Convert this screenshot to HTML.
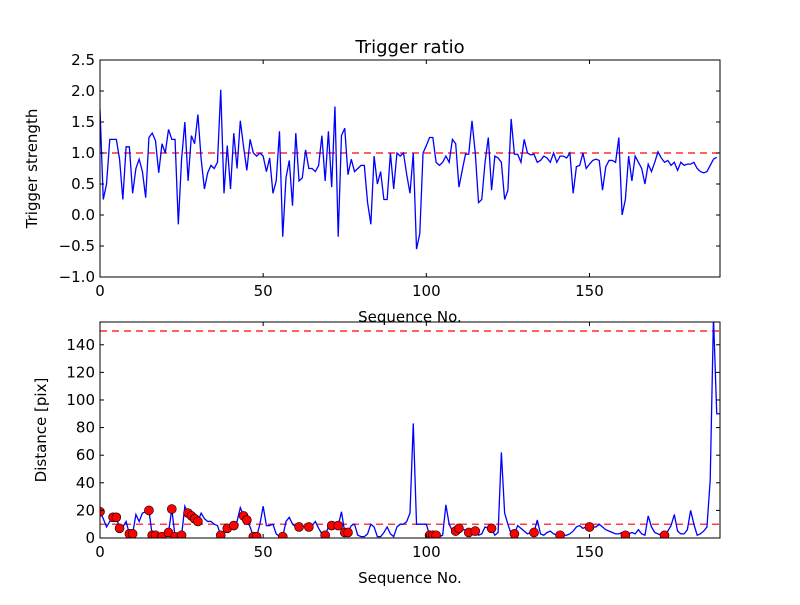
<!DOCTYPE html>
<html><head><meta charset="utf-8"><style>body{margin:0;background:#fff}svg{font-family:"DejaVu Sans","Liberation Sans",sans-serif}</style></head>
<body>
<svg id="c" width="800" height="600"></svg>
<script>
const topVals=[1.7,0.25,0.5,1.22,1.22,1.22,0.9,0.25,1.1,1.1,0.35,0.75,0.9,0.7,0.28,1.25,1.32,1.2,0.68,1.15,1.0,1.38,1.22,1.22,-0.15,0.9,1.5,0.55,1.28,1.15,1.62,0.9,0.42,0.68,0.8,0.75,0.85,2.02,0.35,1.12,0.42,1.32,0.75,1.52,1.1,0.72,1.22,1.0,0.95,1.0,0.95,0.7,0.92,0.35,0.55,1.35,-0.35,0.6,0.88,0.15,1.32,0.55,0.6,1.05,0.75,0.75,0.7,0.8,1.28,0.55,1.35,0.45,1.75,-0.35,1.28,1.4,0.65,0.9,0.7,0.75,0.8,0.8,0.2,-0.15,0.95,0.5,0.7,0.25,0.25,1.0,0.42,1.0,0.95,1.0,0.65,0.35,1.0,-0.55,-0.3,1.0,1.12,1.25,1.25,0.85,0.8,0.85,0.95,0.85,1.22,1.15,0.45,0.72,0.98,0.98,1.52,1.0,0.2,0.25,0.85,1.25,0.4,0.95,0.92,0.85,0.25,0.4,1.55,0.98,0.98,0.85,1.22,1.0,0.97,0.98,0.85,0.88,0.95,0.92,0.85,1.0,0.85,0.95,0.95,0.92,1.0,0.35,0.78,0.8,1.0,0.75,0.82,0.88,0.9,0.88,0.4,0.78,0.88,0.88,0.85,1.25,0.0,0.25,0.95,0.55,0.95,0.85,0.75,0.5,0.82,0.7,0.85,1.02,0.92,0.85,0.88,0.8,0.85,0.72,0.85,0.8,0.82,0.82,0.85,0.75,0.7,0.68,0.7,0.8,0.9,0.93];
const botVals=[19,14,8,12,15,15,7,8,12,3,3,17,12,18,19,20,2,2,1,1,4,4,21,1,1,2,23,18,16,14,12,18,14,12,12,10,9,2,5,7,8,9,12,22,16,13,8,1,1,10,23,9,9,10,3,1,1,12,15,10,8,8,9,8,8,9,12,7,3,2,8,9,11,9,19,4,4,9,10,2,1,1,3,10,8,1,1,4,8,3,1,8,10,10,12,18,83,10,10,10,10,2,2,2,1,2,24,10,5,5,7,6,6,4,5,5,2,3,8,7,7,2,4,62,18,10,3,3,9,7,5,3,4,4,13,3,2,4,5,3,2,2,2,2,3,5,8,9,7,8,8,8,8,10,8,6,5,4,3,3,4,2,3,4,3,6,3,2,16,8,4,3,2,2,5,9,17,5,3,3,6,20,10,2,3,5,8,42,160,90,90];
const dotIdx=[0,4,5,6,9,10,15,16,17,19,21,22,23,25,27,28,29,30,37,39,41,44,45,47,48,56,61,64,69,71,73,75,76,101,102,103,109,110,113,115,120,127,133,141,150,161,173];
const xTicks=[0,50,100,150];
const topTicks=[-1.0,-0.5,0.0,0.5,1.0,1.5,2.0,2.5];
const botTicks=[0,20,40,60,80,100,120,140];
const topThresh=[1.0];
const botThresh=[10,150];
const NS='http://www.w3.org/2000/svg';
const svg=document.getElementById('c');
const X0=100,X1=720,XMAX=190;
const xs=v=>X0+v/XMAX*(X1-X0);
const T={y0:60,y1:277,min:-1,max:2.5};
const B={y0:322,y1:538,min:0,max:156.5};
const ys=(p,v)=>p.y1-(v-p.min)/(p.max-p.min)*(p.y1-p.y0);
function mk(tag,attrs,parent){const e=document.createElementNS(NS,tag);for(const k in attrs)e.setAttribute(k,attrs[k]);(parent||svg).appendChild(e);return e;}
function panel(p,name,vals,ticks,fmt,thresh,ylabel){
  const g=mk('g',{'clip-path':'url(#cl'+name+')'});
  
  
  const cp=mk('clipPath',{id:'cl'+name});mk('rect',{x:X0,y:p.y0,width:X1-X0,height:p.y1-p.y0},cp);
  thresh.forEach(t=>{const l=mk('line',{x1:X0,x2:X1,y1:ys(p,t),y2:ys(p,t),stroke:'#f00','stroke-width':1.2,'stroke-dasharray':'7,5'},g);
    
    });
  const pl=mk('polyline',{points:vals.map((v,i)=>xs(i)+','+ys(p,v)).join(' '),fill:'none',stroke:'#00f','stroke-width':1.3},g);
  
  
  if(name==='distance'){dotIdx.forEach(i=>{const c=mk('circle',{cx:xs(i),cy:ys(p,vals[i]),r:4.5,fill:'#f00',stroke:'#000','stroke-width':0.6},g);
    
    });}
  const fr=mk('rect',{x:X0,y:p.y0,width:X1-X0,height:p.y1-p.y0,fill:'none',stroke:'#000','stroke-width':1});
  
  
  xTicks.forEach(t=>{const x=xs(t);mk('line',{x1:x,x2:x,y1:p.y1,y2:p.y1-4,stroke:'#000'});mk('line',{x1:x,x2:x,y1:p.y0,y2:p.y0+4,stroke:'#000'});
    const tx=mk('text',{x:x,y:p.y1+19,'text-anchor':'middle','font-size':15});tx.textContent=t;
    
    });
  ticks.forEach(t=>{const y=ys(p,t);mk('line',{x1:X0,x2:X0+4,y1:y,y2:y,stroke:'#000'});mk('line',{x1:X1,x2:X1-4,y1:y,y2:y,stroke:'#000'});
    const tx=mk('text',{x:X0-5,y:y+5,'text-anchor':'end','font-size':15});tx.textContent=fmt(t).replace('-','\u2212');
    
    });
  const xl=mk('text',{x:410,y:p.y1+45,'text-anchor':'middle','font-size':15});xl.textContent='Sequence No.';
  
  
  const cy=(p.y0+p.y1)/2;
  const yl=mk('text',{x:0,y:0,'text-anchor':'middle','font-size':15,transform:'translate('+(name==='trigger'?37:46)+','+cy+') rotate(-90)'});yl.textContent=ylabel;
  
  
}
panel(T,'trigger',topVals,topTicks,v=>v.toFixed(1),topThresh,'Trigger strength');
panel(B,'distance',botVals,botTicks,v=>String(v),botThresh,'Distance [pix]');
const ti=mk('text',{x:410,y:53,'text-anchor':'middle','font-size':18});ti.textContent='Trigger ratio';


</script>
</body></html>
